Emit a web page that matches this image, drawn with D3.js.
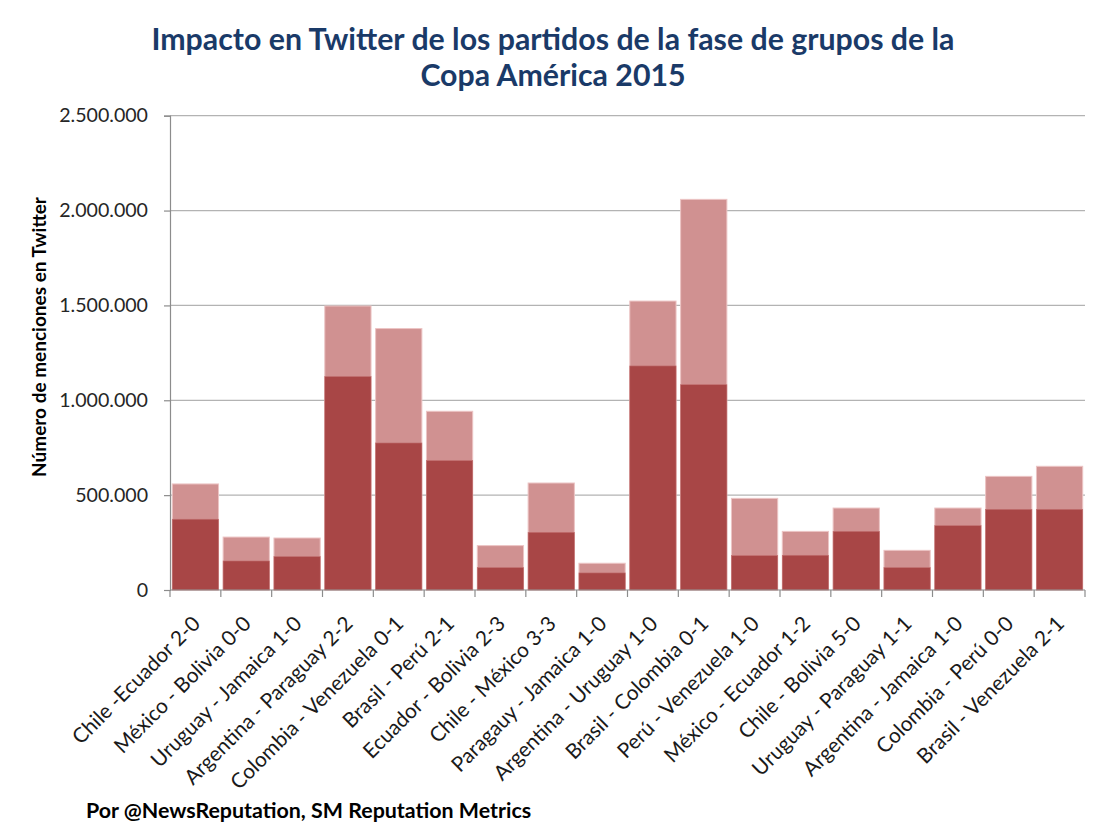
<!DOCTYPE html>
<html><head><meta charset="utf-8">
<script src="https://cdn.jsdelivr.net/npm/d3@7"></script>
<style>body{margin:0;background:#fff;} svg{display:block;}</style>
</head><body>
<svg id="c" width="1110" height="837"></svg>
<script>
const categories = ["Chile -Ecuador 2-0","México - Bolivia 0-0","Uruguay - Jamaica 1-0","Argentina - Paraguay 2-2","Colombia - Venezuela 0-1","Brasil - Perú 2-1","Ecuador - Bolivia 2-3","Chile - México 3-3","Paragauy - Jamaica 1-0","Argentina - Uruguay 1-0","Brasil - Colombia 0-1","Perú - Venezuela 1-0","México - Ecuador 1-2","Chile - Bolivia 5-0","Uruguay - Paraguay 1-1","Argentina - Jamaica 1-0","Colombia - Perú 0-0","Brasil - Venezuela 2-1"];
const totalValues = [559000,279000,274000,1497000,1378000,942000,234000,564000,141000,1523000,2059000,483000,309000,432000,209000,432000,599000,652000];
const darkValues = [373000,153000,176000,1125000,775000,682000,118000,304000,90000,1181000,1082000,181000,183000,309000,118000,339000,425000,425000];
const yTicks = [0,500000,1000000,1500000,2000000,2500000];
const titleLines = ["Impacto en Twitter de los partidos de la fase de grupos de la","Copa América 2015"];
const yTitle = "Número de menciones en Twitter";
const footer = "Por @NewsReputation, SM Reputation Metrics";

(function(){
const font = "Lato, 'Open Sans', sans-serif";
const svg = d3.select("#c");
const pL = 170, pR = 1085, pT = 115.7, pB = 590;
const x = d3.scaleBand().domain(categories).range([pL, pR]).paddingInner(0.09).paddingOuter(0.045);
const y = d3.scaleLinear().domain([0, 2500000]).range([pB, pT]);

svg.append("g").selectAll("line").data(yTicks.slice(1)).join("line")
  .attr("x1", pL).attr("x2", pR).attr("y1", d=>y(d)).attr("y2", d=>y(d))
  .attr("stroke", "#b3b3b3").attr("stroke-width", 1.3);

svg.append("g").selectAll("rect").data(categories).join("rect")
  .attr("x", d=>x(d)).attr("width", x.bandwidth())
  .attr("y", (d,i)=>y(totalValues[i])).attr("height", (d,i)=>pB - y(totalValues[i]))
  .attr("fill", "#d09191").attr("stroke", "#ecc4c4").attr("stroke-width", 1);
svg.append("g").selectAll("rect").data(categories).join("rect")
  .attr("x", d=>x(d)).attr("width", x.bandwidth())
  .attr("y", (d,i)=>y(darkValues[i])).attr("height", (d,i)=>pB - y(darkValues[i]))
  .attr("fill", "#a84646").attr("stroke", "#c27070").attr("stroke-width", 0.6);

const yAxis = svg.append("g").attr("transform", `translate(${pL},0)`)
  .call(d3.axisLeft(y).tickValues(yTicks).tickSize(6).tickPadding(16)
    .tickFormat(d => d3.format(",")(d).replace(/,/g, ".")));
yAxis.select(".domain").attr("stroke", "#8c8c8c").attr("stroke-width", 1.2);
yAxis.selectAll(".tick line").attr("stroke", "#8c8c8c").attr("stroke-width", 1.2);
yAxis.selectAll("text").attr("font-family", font).attr("font-size", 19.6).attr("fill", "#262626");

const bounds = d3.range(categories.length + 1).map(i => pL + i * (pR - pL) / categories.length);
const xg = svg.append("g");
xg.append("line").attr("x1", pL).attr("x2", pR).attr("y1", pB).attr("y2", pB)
  .attr("stroke", "#8c8c8c").attr("stroke-width", 1.2);
xg.selectAll("line.t").data(bounds).join("line").attr("class","t")
  .attr("x1", d=>d).attr("x2", d=>d).attr("y1", pB).attr("y2", pB + 7)
  .attr("stroke", "#8c8c8c").attr("stroke-width", 1.2);
xg.selectAll("text").data(categories).join("text")
  .attr("transform", d => `translate(${x(d) + x.bandwidth()/2 + 6},${pB + 35}) rotate(-45)`)
  .attr("text-anchor", "end")
  .attr("font-family", font).attr("font-size", 20.8).attr("fill", "#1a1a1a")
  .text(d=>d);

svg.append("text").attr("transform", `translate(46,337) rotate(-90)`)
  .attr("text-anchor", "middle").attr("font-family", font).attr("font-weight", "bold")
  .attr("font-size", 19).attr("fill", "#000").text(yTitle);

svg.append("g").selectAll("text").data(titleLines).join("text")
  .attr("x", 553).attr("y", (d,i)=>50 + i*36)
  .attr("text-anchor", "middle").attr("font-family", font).attr("font-weight", "bold")
  .attr("font-size", 30.3).attr("fill", "#1a3a68").text(d=>d);

svg.append("text").attr("x", 86).attr("y", 818).attr("font-family", font)
  .attr("font-weight", "bold").attr("font-size", 21.4).attr("fill", "#000").text(footer);
})();
</script>
</body></html>
